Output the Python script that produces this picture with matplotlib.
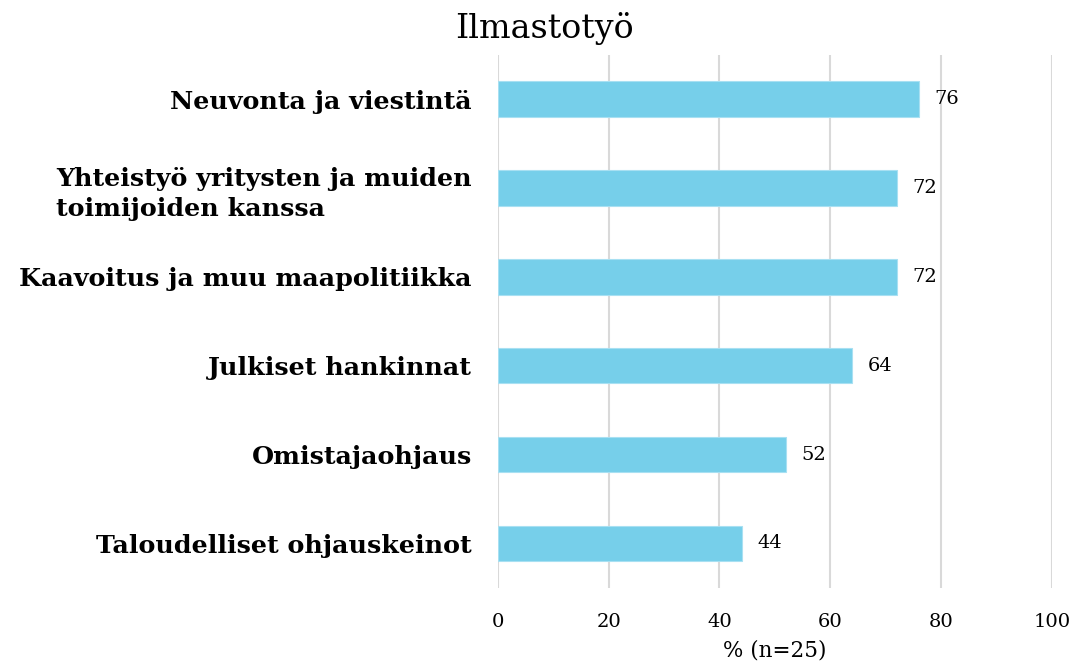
import matplotlib.pyplot as plt

plt.rcParams['font.family'] = ['DejaVu Serif']

categories = [
    'Neuvonta ja viestintä',
    'Yhteistyö yritysten ja muiden\ntoimijoiden kanssa',
    'Kaavoitus ja muu maapolitiikka',
    'Julkiset hankinnat',
    'Omistajaohjaus',
    'Taloudelliset ohjauskeinot',
]
values = [76, 72, 72, 64, 52, 44]
xticks = [0, 20, 40, 60, 80, 100]

fig = plt.figure(figsize=(10.71, 6.68), dpi=100)
ax = fig.add_axes([0.465, 0.12, 0.517, 0.798])

y = list(range(len(categories)))
ax.barh(y, values, height=0.4, color='#76cfea', edgecolor='#a8e0f2', linewidth=0.8, zorder=2)
for yi, v in zip(y, values):
    ax.text(v + 2.8, yi, str(v), va='center', ha='left', fontsize=14)

ax.set_xlim(0, 100)
ax.set_ylim(5.5, -0.5)
ax.set_yticks(y)
ax.set_yticklabels(categories, fontsize=18.3, fontweight='bold', linespacing=1.35,
                   multialignment='left')
ax.set_xticks(xticks)
ax.set_xticklabels([str(t) for t in xticks], fontsize=14)
ax.tick_params(axis='both', length=0)
ax.tick_params(axis='x', pad=18)
ax.tick_params(axis='y', pad=19)
ax.grid(axis='x', color='#d9d9d9', linewidth=1.5, zorder=0)
for s in ax.spines.values():
    s.set_visible(False)

ax.set_xlabel('% (n=25)', fontsize=15.5, labelpad=6)
fig.text(0.508, 0.957, 'Ilmastotyö', ha='center', va='center', fontsize=24)

fig.savefig('out.png', dpi=100)
